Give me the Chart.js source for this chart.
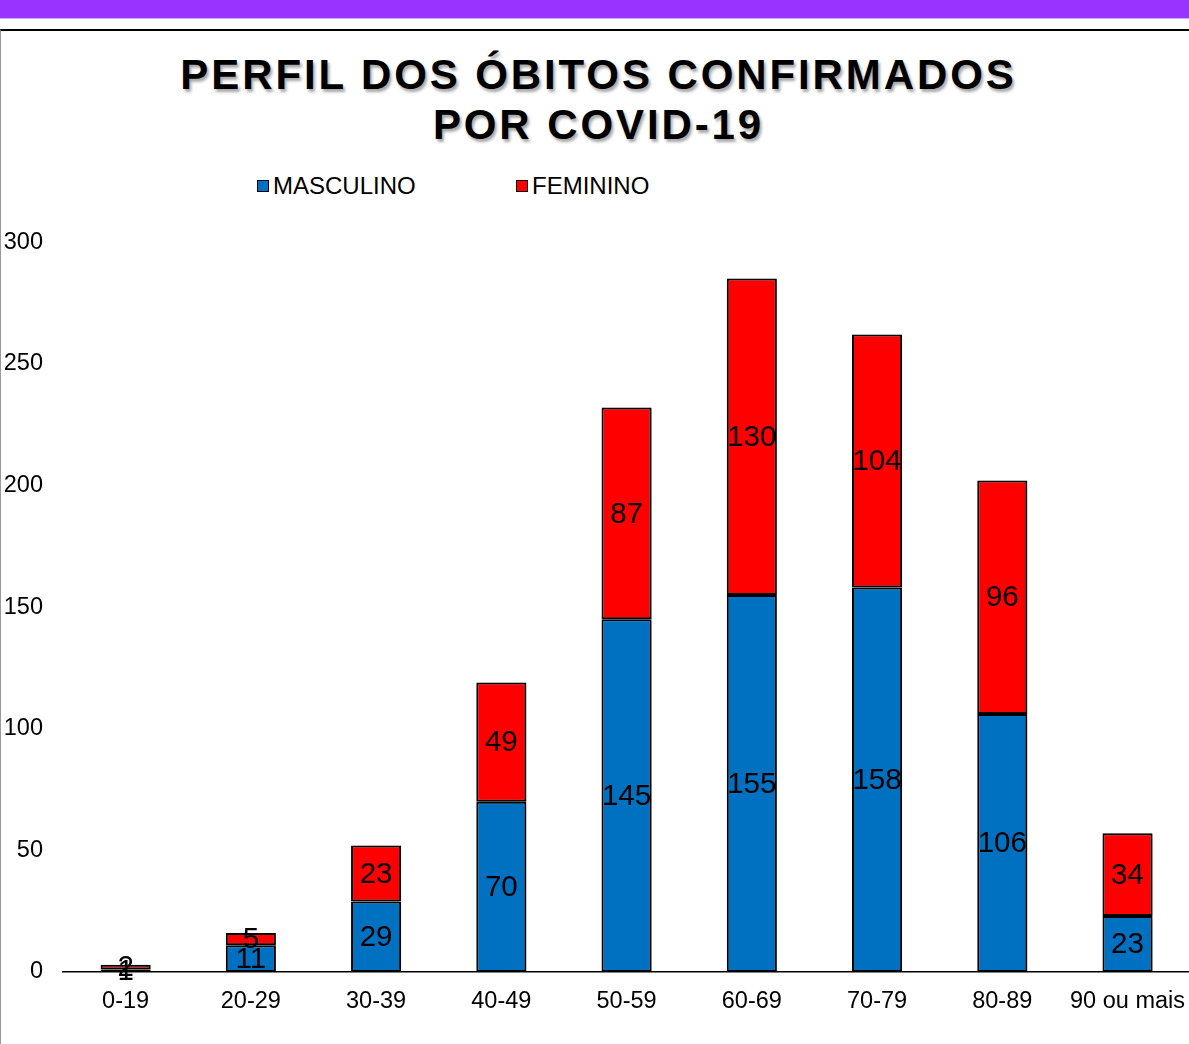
<!DOCTYPE html>
<html>
<head>
<meta charset="utf-8">
<script src="https://cdn.jsdelivr.net/npm/chart.js@4"></script>
<style>
  html, body { margin: 0; padding: 0; background: #fff; overflow: hidden; }
  body { width: 1189px; height: 1044px; position: relative; font-family: 'Liberation Sans', Arial, sans-serif; }
  .band { position: absolute; left: 0; top: 0; width: 1189px; height: 18px; background: #9933ff; border-bottom: 1px solid #cfa6ff; }
  .frame { position: absolute; left: 0; top: 29px; width: 1189px; height: 1015px; border-top: 2px solid #000; border-left: 1px solid #9a9a9a; box-sizing: border-box; }
  .title { position: absolute; left: 0; top: 50px; width: 1197px; text-align: center; font-weight: bold; font-size: 42px; line-height: 50px; letter-spacing: 2.9px; color: #000; text-shadow: 2px 3px 3px rgba(0,0,0,0.35); }
  .legend { position: absolute; top: 174px; font-size: 24px; line-height: 24px; color: #000; }
  .legend span.box { position: absolute; left: 0; top: 6px; width: 10px; height: 10px; border: 1px solid #000; }
  .legend span.txt { position: absolute; left: 16px; top: 0; white-space: nowrap; }
  #wrap { position: absolute; left: 0; top: 208px; width: 1200px; height: 836px; }
</style>
</head>
<body>
<div class="band"></div>
<div class="frame"></div>
<div class="title">PERFIL DOS ÓBITOS CONFIRMADOS<br>POR COVID-19</div>
<div class="legend" style="left:257px"><span class="box" style="background:#0070c0"></span><span class="txt">MASCULINO</span></div>
<div class="legend" style="left:516px"><span class="box" style="background:#ff0000"></span><span class="txt">FEMININO</span></div>
<div id="wrap"><canvas id="myChart"></canvas></div>
<script>
const faixas = ['0-19', '20-29', '30-39', '40-49', '50-59', '60-69', '70-79', '80-89', '90 ou mais']
const masculino = [1, 11, 29, 70, 145, 155, 158, 106, 23]
const feminino = [2, 5, 23, 49, 87, 130, 104, 96, 34]
const yTicks = [0, 50, 100, 150, 200, 250, 300]

const ctx = document.getElementById('myChart')

// sombra leve nas barras
const sombra = {
  id: 'sombra',
  beforeDatasetsDraw (chart) {
    const c = chart.ctx
    c.save()
    c.shadowColor = 'rgba(0,0,0,0.35)'
    c.shadowBlur = 4
    c.shadowOffsetX = 2
    c.shadowOffsetY = 2
  },
  afterDatasetsDraw (chart) {
    chart.ctx.restore()
  }
}

// rotulos no centro de cada segmento
const rotulos = {
  id: 'rotulos',
  afterDatasetsDraw (chart) {
    const c = chart.ctx
    c.save()
    c.font = '29.5px "Liberation Sans", Arial, sans-serif'
    c.fillStyle = '#000'
    c.textAlign = 'center'
    c.textBaseline = 'middle'
    chart.data.datasets.forEach((ds, i) => {
      chart.getDatasetMeta(i).data.forEach((bar, j) => {
        const { x, y, base } = bar.getProps(['x', 'y', 'base'], true)
        c.fillText(ds.data[j], x, (y + base) / 2 + 1)
      })
    })
    c.restore()
  }
}

new Chart(ctx, {
  type: 'bar',
  data: {
    labels: faixas,
    datasets: [{
      label: 'MASCULINO',
      data: masculino,
      backgroundColor: '#0070c0',
      borderColor: '#000',
      borderWidth: 2,
      borderSkipped: false
    }, {
      label: 'FEMININO',
      data: feminino,
      backgroundColor: '#ff0000',
      borderColor: '#000',
      borderWidth: 2,
      borderSkipped: false
    }]
  },
  options: {
    responsive: true,
    maintainAspectRatio: false,
    animation: false,
    datasets: { bar: { barPercentage: 0.4, categoryPercentage: 1 } },
    layout: { padding: { top: 8, right: 0, left: 0, bottom: 0 } },
    plugins: {
      legend: { display: false },
      title: { display: false },
      tooltip: { enabled: false }
    },
    scales: {
      x: {
        stacked: true,
        grid: { display: false, drawTicks: false },
        border: { display: true, color: '#000', width: 1.5 },
        ticks: {
          color: '#000',
          padding: 15,
          maxRotation: 0,
          autoSkip: false,
          font: { family: '"Liberation Sans", Arial, sans-serif', size: 23.5 }
        },
        afterFit (scale) { scale.height = 72 }
      },
      y: {
        stacked: true,
        min: 0,
        max: 300,
        afterBuildTicks (scale) { scale.ticks = yTicks.map(v => ({ value: v })) },
        grid: { display: false, drawTicks: false },
        border: { display: false },
        ticks: {
          color: '#000',
          padding: 20,
          font: { family: '"Liberation Sans", Arial, sans-serif', size: 23.5 }
        },
        afterFit (scale) { scale.width = 63 }
      }
    }
  },
  plugins: [sombra, rotulos]
})
</script>
</body>
</html>
